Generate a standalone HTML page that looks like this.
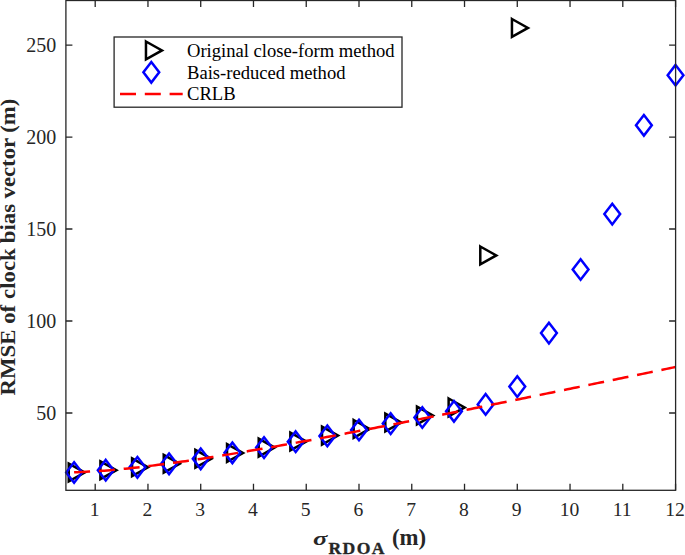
<!DOCTYPE html>
<html><head><meta charset="utf-8"><title>RMSE of clock bias vector</title>
<style>html,body{margin:0;padding:0;background:#fff;}body{width:685px;height:555px;overflow:hidden;}svg{display:block;}text{font-family:"Liberation Serif",serif;}</style></head><body>
<svg width="685" height="555" viewBox="0 0 685 555">
<rect x="0" y="0" width="685" height="555" fill="#ffffff"/>
<path d="M68.76 463.60L84.76 472.50L68.76 481.40Z" fill="none" stroke="#000000" stroke-width="2.5" stroke-linejoin="miter"/>
<path d="M100.42 461.30L116.42 470.20L100.42 479.10Z" fill="none" stroke="#000000" stroke-width="2.5" stroke-linejoin="miter"/>
<path d="M132.07 458.40L148.07 467.30L132.07 476.20Z" fill="none" stroke="#000000" stroke-width="2.5" stroke-linejoin="miter"/>
<path d="M163.73 454.90L179.73 463.80L163.73 472.70Z" fill="none" stroke="#000000" stroke-width="2.5" stroke-linejoin="miter"/>
<path d="M195.39 449.90L211.39 458.80L195.39 467.70Z" fill="none" stroke="#000000" stroke-width="2.5" stroke-linejoin="miter"/>
<path d="M227.04 444.10L243.04 453.00L227.04 461.90Z" fill="none" stroke="#000000" stroke-width="2.5" stroke-linejoin="miter"/>
<path d="M258.70 438.70L274.70 447.60L258.70 456.50Z" fill="none" stroke="#000000" stroke-width="2.5" stroke-linejoin="miter"/>
<path d="M290.35 432.60L306.35 441.50L290.35 450.40Z" fill="none" stroke="#000000" stroke-width="2.5" stroke-linejoin="miter"/>
<path d="M322.01 426.70L338.01 435.60L322.01 444.50Z" fill="none" stroke="#000000" stroke-width="2.5" stroke-linejoin="miter"/>
<path d="M353.67 420.00L369.67 428.90L353.67 437.80Z" fill="none" stroke="#000000" stroke-width="2.5" stroke-linejoin="miter"/>
<path d="M385.32 413.60L401.32 422.50L385.32 431.40Z" fill="none" stroke="#000000" stroke-width="2.5" stroke-linejoin="miter"/>
<path d="M416.98 406.60L432.98 415.50L416.98 424.40Z" fill="none" stroke="#000000" stroke-width="2.5" stroke-linejoin="miter"/>
<path d="M448.63 398.50L464.63 407.40L448.63 416.30Z" fill="none" stroke="#000000" stroke-width="2.5" stroke-linejoin="miter"/>
<path d="M480.29 246.50L496.29 255.40L480.29 264.30Z" fill="none" stroke="#000000" stroke-width="2.5" stroke-linejoin="miter"/>
<path d="M511.95 19.00L527.95 27.90L511.95 36.80Z" fill="none" stroke="#000000" stroke-width="2.5" stroke-linejoin="miter"/>
<path d="M74.10 462.20L82.00 472.50L74.10 482.80L66.20 472.50Z" fill="none" stroke="#0000ff" stroke-width="2.5" stroke-linejoin="miter"/>
<path d="M105.75 459.90L113.65 470.20L105.75 480.50L97.85 470.20Z" fill="none" stroke="#0000ff" stroke-width="2.5" stroke-linejoin="miter"/>
<path d="M137.41 457.00L145.31 467.30L137.41 477.60L129.51 467.30Z" fill="none" stroke="#0000ff" stroke-width="2.5" stroke-linejoin="miter"/>
<path d="M169.06 453.50L176.96 463.80L169.06 474.10L161.16 463.80Z" fill="none" stroke="#0000ff" stroke-width="2.5" stroke-linejoin="miter"/>
<path d="M200.72 448.50L208.62 458.80L200.72 469.10L192.82 458.80Z" fill="none" stroke="#0000ff" stroke-width="2.5" stroke-linejoin="miter"/>
<path d="M232.38 442.50L240.28 452.80L232.38 463.10L224.48 452.80Z" fill="none" stroke="#0000ff" stroke-width="2.5" stroke-linejoin="miter"/>
<path d="M264.03 437.30L271.93 447.60L264.03 457.90L256.13 447.60Z" fill="none" stroke="#0000ff" stroke-width="2.5" stroke-linejoin="miter"/>
<path d="M295.69 431.40L303.59 441.70L295.69 452.00L287.79 441.70Z" fill="none" stroke="#0000ff" stroke-width="2.5" stroke-linejoin="miter"/>
<path d="M327.34 425.60L335.24 435.90L327.34 446.20L319.44 435.90Z" fill="none" stroke="#0000ff" stroke-width="2.5" stroke-linejoin="miter"/>
<path d="M359.00 419.70L366.90 430.00L359.00 440.30L351.10 430.00Z" fill="none" stroke="#0000ff" stroke-width="2.5" stroke-linejoin="miter"/>
<path d="M390.66 413.30L398.56 423.60L390.66 433.90L382.76 423.60Z" fill="none" stroke="#0000ff" stroke-width="2.5" stroke-linejoin="miter"/>
<path d="M422.31 407.20L430.21 417.50L422.31 427.80L414.41 417.50Z" fill="none" stroke="#0000ff" stroke-width="2.5" stroke-linejoin="miter"/>
<path d="M453.97 401.00L461.87 411.30L453.97 421.60L446.07 411.30Z" fill="none" stroke="#0000ff" stroke-width="2.5" stroke-linejoin="miter"/>
<path d="M485.62 394.10L493.52 404.40L485.62 414.70L477.72 404.40Z" fill="none" stroke="#0000ff" stroke-width="2.5" stroke-linejoin="miter"/>
<path d="M517.28 376.30L525.18 386.60L517.28 396.90L509.38 386.60Z" fill="none" stroke="#0000ff" stroke-width="2.5" stroke-linejoin="miter"/>
<path d="M548.94 322.80L556.84 333.10L548.94 343.40L541.04 333.10Z" fill="none" stroke="#0000ff" stroke-width="2.5" stroke-linejoin="miter"/>
<path d="M580.59 259.20L588.49 269.50L580.59 279.80L572.69 269.50Z" fill="none" stroke="#0000ff" stroke-width="2.5" stroke-linejoin="miter"/>
<path d="M612.25 203.80L620.15 214.10L612.25 224.40L604.35 214.10Z" fill="none" stroke="#0000ff" stroke-width="2.5" stroke-linejoin="miter"/>
<path d="M643.90 115.00L651.80 125.30L643.90 135.60L636.00 125.30Z" fill="none" stroke="#0000ff" stroke-width="2.5" stroke-linejoin="miter"/>
<path d="M675.56 64.90L683.46 75.20L675.56 85.50L667.66 75.20Z" fill="none" stroke="#0000ff" stroke-width="2.5" stroke-linejoin="miter"/>
<polyline points="74.10,472.31 77.10,472.20 80.11,472.07 83.12,471.93 86.13,471.78 89.13,471.62 92.14,471.44 95.15,471.26 98.15,471.06 101.16,470.85 104.17,470.63 107.18,470.40 110.18,470.14 113.19,469.87 116.20,469.59 119.21,469.30 122.21,469.01 125.22,468.70 128.23,468.39 131.24,468.07 134.24,467.74 137.25,467.40 140.26,467.06 143.26,466.71 146.27,466.35 149.28,465.99 152.29,465.62 155.29,465.24 158.30,464.86 161.31,464.47 164.32,464.07 167.32,463.67 170.33,463.26 173.34,462.85 176.34,462.43 179.35,462.00 182.36,461.57 185.37,461.14 188.37,460.70 191.38,460.26 194.39,459.81 197.40,459.36 200.40,458.90 203.41,458.44 206.42,457.97 209.43,457.50 212.43,457.03 215.44,456.55 218.45,456.07 221.45,455.59 224.46,455.10 227.47,454.61 230.48,454.11 233.48,453.62 236.49,453.12 239.50,452.62 242.51,452.11 245.51,451.60 248.52,451.09 251.53,450.58 254.54,450.06 257.54,449.55 260.55,449.03 263.56,448.51 266.56,447.98 269.57,447.45 272.58,446.93 275.59,446.40 278.59,445.86 281.60,445.33 284.61,444.79 287.62,444.25 290.62,443.71 293.63,443.17 296.64,442.63 299.64,442.08 302.65,441.53 305.66,440.98 308.67,440.42 311.67,439.87 314.68,439.31 317.69,438.75 320.70,438.19 323.70,437.63 326.71,437.07 329.72,436.51 332.73,435.94 335.73,435.38 338.74,434.81 341.75,434.24 344.75,433.67 347.76,433.10 350.77,432.53 353.78,431.96 356.78,431.39 359.79,430.81 362.80,430.24 365.81,429.66 368.81,429.08 371.82,428.51 374.83,427.93 377.84,427.35 380.84,426.77 383.85,426.19 386.86,425.61 389.86,425.02 392.87,424.44 395.88,423.86 398.89,423.27 401.89,422.69 404.90,422.10 407.91,421.51 410.92,420.93 413.92,420.33 416.93,419.74 419.94,419.14 422.95,418.54 425.95,417.94 428.96,417.34 431.97,416.74 434.97,416.14 437.98,415.54 440.99,414.94 444.00,414.34 447.00,413.74 450.01,413.14 453.02,412.53 456.03,411.93 459.03,411.33 462.04,410.72 465.05,410.12 468.05,409.51 471.06,408.91 474.07,408.30 477.08,407.69 480.08,407.09 483.09,406.48 486.10,405.87 489.11,405.26 492.11,404.65 495.12,404.04 498.13,403.44 501.14,402.83 504.14,402.22 507.15,401.60 510.16,400.99 513.16,400.38 516.17,399.77 519.18,399.16 522.19,398.55 525.19,397.93 528.20,397.32 531.21,396.71 534.22,396.10 537.22,395.48 540.23,394.87 543.24,394.25 546.25,393.64 549.25,393.02 552.26,392.41 555.27,391.79 558.27,391.18 561.28,390.56 564.29,389.95 567.30,389.33 570.30,388.71 573.31,388.10 576.32,387.48 579.33,386.86 582.33,386.24 585.34,385.63 588.35,385.01 591.36,384.39 594.36,383.77 597.37,383.15 600.38,382.53 603.38,381.92 606.39,381.30 609.40,380.68 612.41,380.06 615.41,379.44 618.42,378.82 621.43,378.20 624.44,377.58 627.44,376.96 630.45,376.33 633.46,375.71 636.46,375.09 639.47,374.47 642.48,373.85 645.49,373.23 648.49,372.61 651.50,371.98 654.51,371.36 657.52,370.74 660.52,370.12 663.53,369.49 666.54,368.87 669.55,368.25 672.55,367.63 675.56,367.00" fill="none" stroke="#ff0000" stroke-width="2.5" stroke-dasharray="16 8.86"/>
<rect x="65.90" y="0.50" width="609.70" height="489.80" fill="none" stroke="#262626" stroke-width="1.3"/>
<path d="M95.20 490.30V483.80M95.20 0.50V7.00M147.96 490.30V483.80M147.96 0.50V7.00M200.72 490.30V483.80M200.72 0.50V7.00M253.48 490.30V483.80M253.48 0.50V7.00M306.24 490.30V483.80M306.24 0.50V7.00M359.00 490.30V483.80M359.00 0.50V7.00M411.76 490.30V483.80M411.76 0.50V7.00M464.52 490.30V483.80M464.52 0.50V7.00M517.28 490.30V483.80M517.28 0.50V7.00M570.04 490.30V483.80M570.04 0.50V7.00M622.80 490.30V483.80M622.80 0.50V7.00M675.56 490.30V483.80M675.56 0.50V7.00M65.90 413.00H72.40M675.60 413.00H669.10M65.90 321.01H72.40M675.60 321.01H669.10M65.90 229.02H72.40M675.60 229.02H669.10M65.90 137.03H72.40M675.60 137.03H669.10M65.90 45.04H72.40M675.60 45.04H669.10" fill="none" stroke="#262626" stroke-width="1.3"/>
<text x="94.60" y="516.3" font-size="19.6" text-anchor="middle" fill="#262626">1</text>
<text x="147.36" y="516.3" font-size="19.6" text-anchor="middle" fill="#262626">2</text>
<text x="200.12" y="516.3" font-size="19.6" text-anchor="middle" fill="#262626">3</text>
<text x="252.88" y="516.3" font-size="19.6" text-anchor="middle" fill="#262626">4</text>
<text x="305.64" y="516.3" font-size="19.6" text-anchor="middle" fill="#262626">5</text>
<text x="358.40" y="516.3" font-size="19.6" text-anchor="middle" fill="#262626">6</text>
<text x="411.16" y="516.3" font-size="19.6" text-anchor="middle" fill="#262626">7</text>
<text x="463.92" y="516.3" font-size="19.6" text-anchor="middle" fill="#262626">8</text>
<text x="516.68" y="516.3" font-size="19.6" text-anchor="middle" fill="#262626">9</text>
<text x="569.44" y="516.3" font-size="19.6" text-anchor="middle" fill="#262626">10</text>
<text x="622.20" y="516.3" font-size="19.6" text-anchor="middle" fill="#262626">11</text>
<text x="674.96" y="516.3" font-size="19.6" text-anchor="middle" fill="#262626">12</text>
<text x="56.3" y="419.60" font-size="20" text-anchor="end" fill="#262626">50</text>
<text x="56.3" y="327.61" font-size="20" text-anchor="end" fill="#262626">100</text>
<text x="56.3" y="235.62" font-size="20" text-anchor="end" fill="#262626">150</text>
<text x="56.3" y="143.63" font-size="20" text-anchor="end" fill="#262626">200</text>
<text x="56.3" y="51.64" font-size="20" text-anchor="end" fill="#262626">250</text>
<g transform="translate(15.3 0) rotate(-90) scale(1 0.95)" font-size="22.8" font-weight="bold" fill="#262626">
<text x="-395.40" y="0">RMSE</text>
<text x="-323.80" y="0">of</text>
<text x="-298.90" y="0">clock</text>
<text x="-243.20" y="0">bias</text>
<text x="-198.50" y="0">vector</text>
<text x="-132.80" y="0">(m)</text>
</g>
<text transform="translate(312.9 544.5) scale(1.167 0.85)" font-size="22.8" font-weight="bold" font-style="italic" fill="#262626">σ</text>
<text x="328.5" y="554.1" font-size="17.6" font-weight="bold" letter-spacing="1.4" stroke="#262626" stroke-width="0.35" fill="#262626">RDOA</text>
<text x="392.0" y="544.5" font-size="22.8" font-weight="bold" fill="#262626">(m)</text>
<rect x="114.1" y="37.0" width="287.9" height="70.2" fill="#ffffff" stroke="#262626" stroke-width="1.3"/>
<path d="M145.97 41.50L161.97 50.40L145.97 59.30Z" fill="none" stroke="#000000" stroke-width="2.5"/>
<path d="M151.30 62.00L159.20 72.30L151.30 82.60L143.40 72.30Z" fill="none" stroke="#0000ff" stroke-width="2.5"/>
<path d="M120 94.00H182.7" fill="none" stroke="#ff0000" stroke-width="2.5" stroke-dasharray="16 8.8"/>
<text x="187.0" y="56.50" font-size="18.6" fill="#000000">Original close-form method</text>
<text x="187.0" y="78.90" font-size="18.6" fill="#000000">Bais-reduced method</text>
<text x="187.0" y="100.30" font-size="18.6" fill="#000000">CRLB</text>
</svg></body></html>
